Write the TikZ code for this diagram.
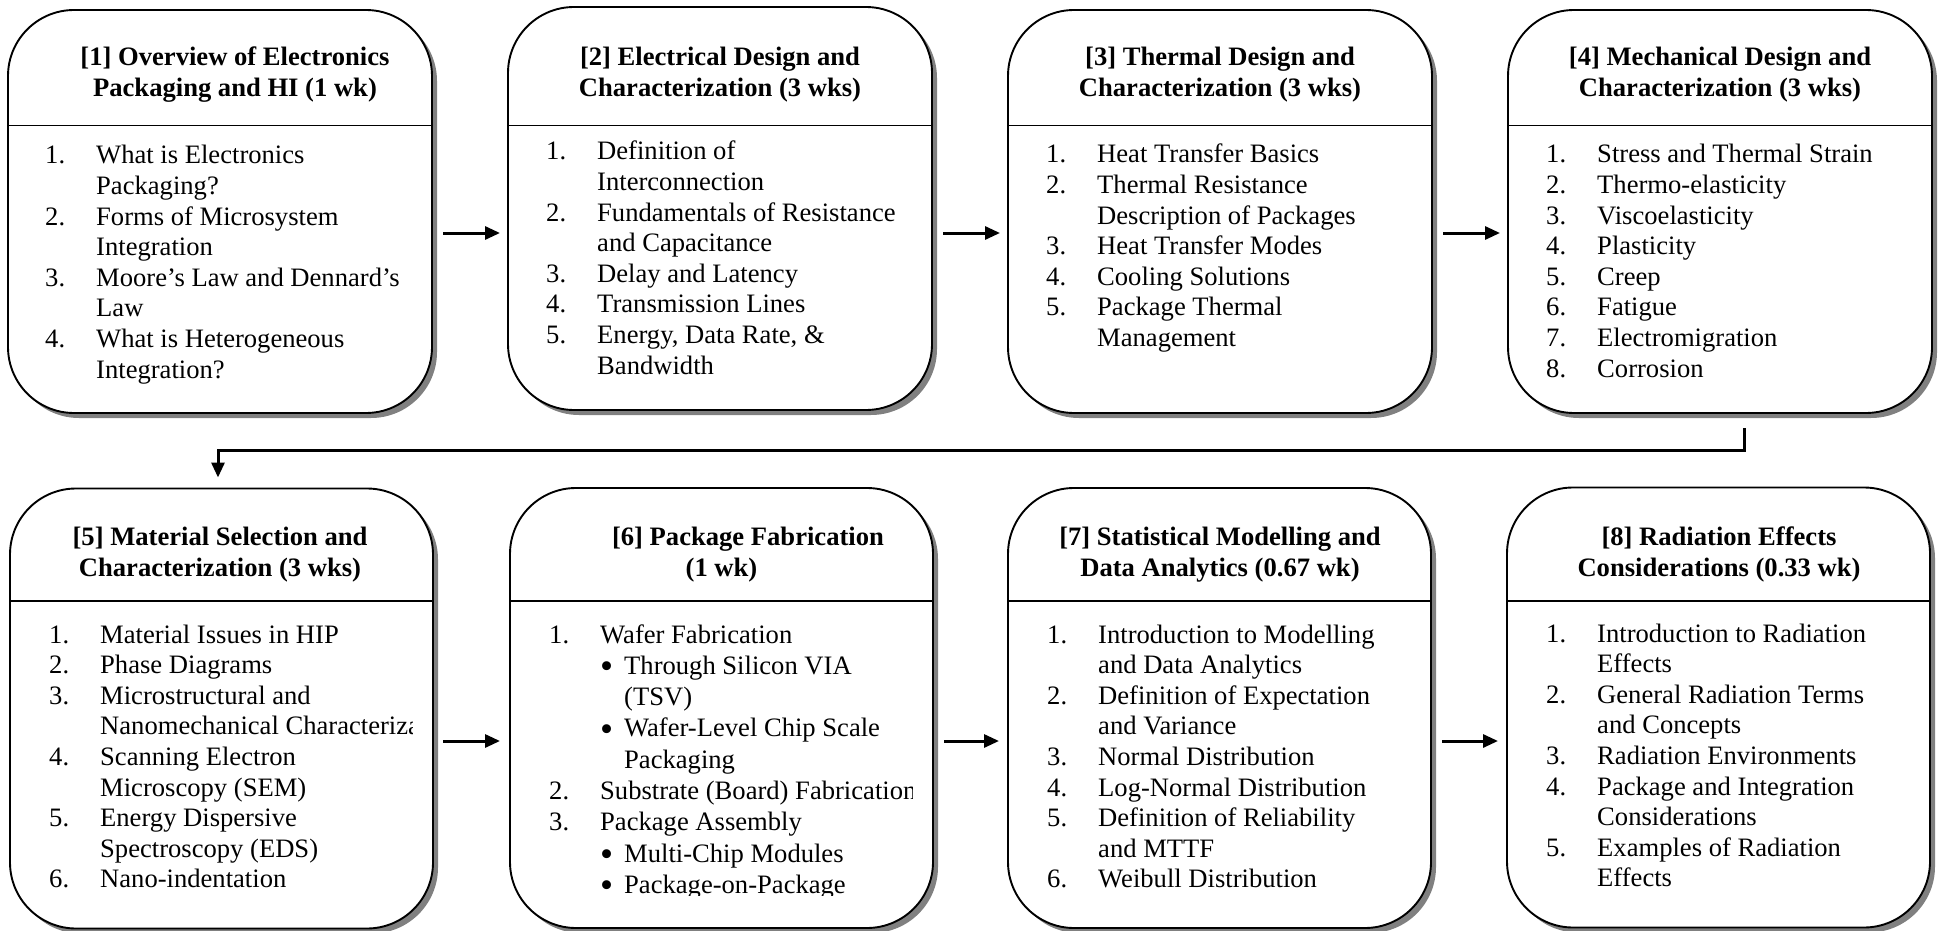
\documentclass[tikz,border=0pt]{standalone}
\usepackage{fontspec}
\setmainfont{Liberation Serif}
\usetikzlibrary{arrows.meta,calc,shadows}
\newlength\numw
\setlength\numw{51pt}
\newcommand\nm[1]{\makebox[\numw][l]{#1}}
\newcommand\bu{\makebox[24pt][l]{\raisebox{-4.5pt}{\scalebox{1.4}{\textbullet}}}}
\newcommand\bcont{\hspace*{24pt}}
\newcommand\spillover[1]{\makebox[0pt][l]{#1}}
\newcommand\bodyfont{\fontsize{26.6pt}{30.6pt}\selectfont}
\newcommand\bodyfontb{\fontsize{26.6pt}{31.3pt}\selectfont}
\newcommand\titlefont{\bfseries\fontsize{26.6pt}{31.5pt}\selectfont}
\tikzset{
  stage/.style={draw, line width=1.9pt, fill=white, rounded corners=66pt,
    inner sep=0pt, outer sep=0pt,
    drop shadow={shadow xshift=5pt, shadow yshift=-5pt, fill=black!50, opacity=1}},
  rowone/.style={minimum width=424pt, minimum height=403pt},
  rowtwo/.style={minimum width=423pt, minimum height=440pt},
  divider/.style={line width=1.5pt},
  title/.style={anchor=base, inner sep=0pt, font=\titlefont},
  body/.style={anchor=base west, inner sep=0pt, font=\bodyfont},
  flow/.style={line width=3pt, -{Triangle[length=15pt,width=13pt]}},
}
\begin{document}
\begin{tikzpicture}[x=1pt,y=-1pt]
\useasboundingbox (0,0) rectangle (1941,931);
\clip (0,0) rectangle (1941,931);

% ---------- boxes ----------
\node[stage, rowone] (b1) at (220,211.5) {};
\node[stage, rowone] (b2) at (720,208.5) {};
\node[stage, rowone] (b3) at (1220,211.5) {};
\node[stage, rowone] (b4) at (1720,211.5) {};
\node[stage, rowtwo] (b5) at (221.5,708.5) {};
\node[stage, rowtwo] (b6) at (721.5,708) {};
\node[stage, rowtwo] (b7) at (1219.5,708) {};
\node[stage, rowtwo] (b8) at (1718.5,707.5) {};

% ---------- dividers ----------
\foreach \b in {b1,b2,b3,b4}{
  \draw[divider] (\b.west |- 0,125.5) -- (\b.east |- 0,125.5);
}
\foreach \b in {b5,b6,b7,b8}{
  \draw[divider] (\b.west |- 0,601) -- (\b.east |- 0,601);
}

% ---------- titles ----------
\node[title] (h1) at (235,65.5) {\parbox[t]{400pt}{\centering [1] Overview of Electronics\\Packaging and HI (1 wk)}};
\node[title] (h2) at (720,65.5) {\parbox[t]{400pt}{\centering [2] Electrical Design and\\Characterization (3 wks)}};
\node[title] (h3) at (1220,65.5) {\parbox[t]{400pt}{\centering [3] Thermal Design and\\Characterization (3 wks)}};
\node[title] (h4) at (1720,65.5) {\parbox[t]{400pt}{\centering [4] Mechanical Design and\\Characterization (3 wks)}};
\node[title] (h5) at (220,545) {\parbox[t]{400pt}{\centering [5] Material Selection and\\Characterization (3 wks)}};
\node[title] (h6) at (721.5,545) {\parbox[t]{400pt}{\centering \hspace*{53pt}[6] Package Fabrication\\(1 wk)}};
\node[title] (h7) at (1220,545) {\parbox[t]{400pt}{\centering [7] Statistical Modelling and\\Data Analytics (0.67 wk)}};
\node[title] (h8) at (1719,545) {\parbox[t]{400pt}{\centering [8] Radiation Effects\\Considerations (0.33 wk)}};

% ---------- lists ----------
\node[body] (l1) at (45,164) {\parbox[t]{363pt}{%
\nm{1.}What is Electronics\\
\nm{}Packaging?\\
\nm{2.}Forms of Microsystem\\
\nm{}Integration\\
\nm{3.}Moore's Law and Dennard's\\
\nm{}Law\\
\nm{4.}What is Heterogeneous\\
\nm{}Integration?}};

\node[body] (l2) at (546,160) {\parbox[t]{363pt}{%
\nm{1.}Definition of\\
\nm{}Interconnection\\
\nm{2.}Fundamentals of Resistance\\
\nm{}and Capacitance\\
\nm{3.}Delay and Latency\\
\nm{4.}Transmission Lines\\
\nm{5.}Energy, Data Rate, \&\\
\nm{}Bandwidth}};

\node[body] (l3) at (1046,163) {\parbox[t]{363pt}{%
\nm{1.}Heat Transfer Basics\\
\nm{2.}Thermal Resistance\\
\nm{}Description of Packages\\
\nm{3.}Heat Transfer Modes\\
\nm{4.}Cooling Solutions\\
\nm{5.}Package Thermal\\
\nm{}Management}};

\node[body] (l4) at (1546,163) {\parbox[t]{363pt}{%
\nm{1.}Stress and Thermal Strain\\
\nm{2.}Thermo-elasticity\\
\nm{3.}Viscoelasticity\\
\nm{4.}Plasticity\\
\nm{5.}Creep\\
\nm{6.}Fatigue\\
\nm{7.}Electromigration\\
\nm{8.}Corrosion}};

\begin{scope}
\clip (20,603) rectangle (412,925);
\node[body] (l5) at (49,643) {\parbox[t]{363pt}{%
\nm{1.}Material Issues in HIP\\
\nm{2.}Phase Diagrams\\
\nm{3.}Microstructural and\\
\nm{}\spillover{Nanomechanical Characterization}\\
\nm{4.}Scanning Electron\\
\nm{}Microscopy (SEM)\\
\nm{5.}Energy Dispersive\\
\nm{}Spectroscopy (EDS)\\
\nm{6.}Nano-indentation}};
\end{scope}

\begin{scope}
\clip (520,603) rectangle (912,895);
\node[body, font=\bodyfontb] (l6) at (549,643) {\parbox[t]{363pt}{%
\nm{1.}Wafer Fabrication\\
\nm{}\bu Through Silicon VIA\\
\nm{}\bcont (TSV)\\
\nm{}\bu Wafer-Level Chip Scale\\
\nm{}\bcont Packaging\\
\nm{2.}\spillover{Substrate (Board) Fabrication}\\
\nm{3.}Package Assembly\\
\nm{}\bu Multi-Chip Modules\\
\nm{}\bu Package-on-Package}};
\end{scope}

\node[body] (l7) at (1047,643) {\parbox[t]{363pt}{%
\nm{1.}Introduction to Modelling\\
\nm{}and Data Analytics\\
\nm{2.}Definition of Expectation\\
\nm{}and Variance\\
\nm{3.}Normal Distribution\\
\nm{4.}Log-Normal Distribution\\
\nm{5.}Definition of Reliability\\
\nm{}and MTTF\\
\nm{6.}Weibull Distribution}};

\node[body] (l8) at (1546,642) {\parbox[t]{363pt}{%
\nm{1.}Introduction to Radiation\\
\nm{}Effects\\
\nm{2.}General Radiation Terms\\
\nm{}and Concepts\\
\nm{3.}Radiation Environments\\
\nm{4.}Package and Integration\\
\nm{}Considerations\\
\nm{5.}Examples of Radiation\\
\nm{}Effects}};

% ---------- connectors ----------
\coordinate (r1) at (0,233);
\coordinate (r2) at (0,741);
\draw[flow] ($(b1.east |- r1)+(11,0)$) -- ($(b2.west |- r1)+(-8,0)$);
\draw[flow] ($(b2.east |- r1)+(11,0)$) -- ($(b3.west |- r1)+(-8,0)$);
\draw[flow] ($(b3.east |- r1)+(11,0)$) -- ($(b4.west |- r1)+(-8,0)$);
\draw[flow] ($(b4.south)+(24,15)$) -- ++(0,22) -| ($(b5.north)+(-3.5,-11)$);
\draw[flow] ($(b5.east |- r2)+(10,0)$) -- ($(b6.west |- r2)+(-10,0)$);
\draw[flow] ($(b6.east |- r2)+(11,0)$) -- ($(b7.west |- r2)+(-9,0)$);
\draw[flow] ($(b7.east |- r2)+(11,0)$) -- ($(b8.west |- r2)+(-9,0)$);
\end{tikzpicture}
\end{document}
